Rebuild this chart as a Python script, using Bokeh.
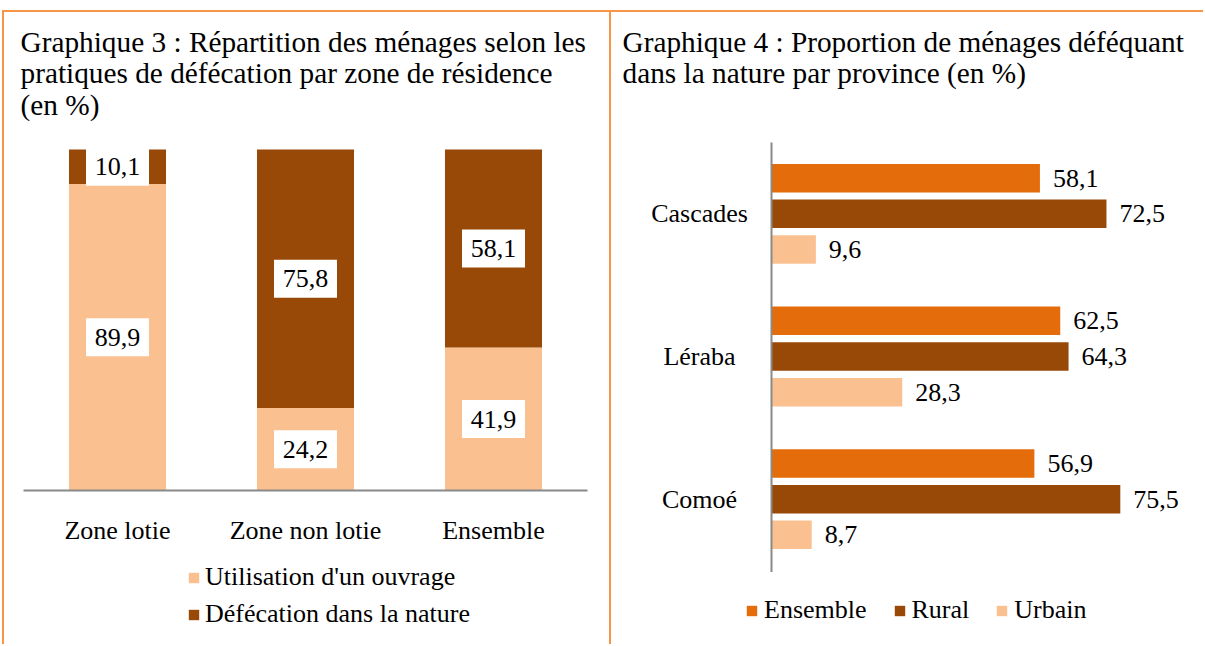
from bokeh.plotting import figure
from bokeh.models import (Range1d, Legend, LegendItem, Label, ColumnDataSource, Spacer)
from bokeh.layouts import row, column
from bokeh.embed import file_html
from bokeh.resources import INLINE
from bokeh.core.properties import value

# ---------------- data ----------------
zones = ["Zone lotie", "Zone non lotie", "Ensemble"]
ouvrage = [89.9, 24.2, 41.9]
nature = [10.1, 75.8, 58.1]
series3 = ["Utilisation d'un ouvrage", "Défécation dans la nature"]

provinces = ["Cascades", "Léraba", "Comoé"]
ens = [58.1, 62.5, 56.9]
rural = [72.5, 64.3, 75.5]
urbain = [9.6, 28.3, 8.7]
series4 = ["Ensemble", "Rural", "Urbain"]

title3 = ["Graphique 3 : Répartition des ménages selon les",
          "pratiques de défécation par zone de résidence",
          "(en %)"]
title4 = ["Graphique 4 : Proportion de ménages déféquant",
          "dans la nature par province (en %)"]

# ---------------- style ----------------
FONT = "Liberation Serif"
C_LIGHT = "#FAC090"
C_DARK = "#984807"
C_ORANGE = "#E46C0A"
C_AXIS = "#898989"
C_BORDER = "#F79646"
FS = "26px"
FS_T = "29.3px"
TITLE_BASE = [29, 60.5, 92]   # baselines, px from canvas top


def fmt(v):
    return f"{v:.1f}".replace(".", ",")


def lin_range(v0, p0, v1, p1, size):
    """Range whose values v0, v1 fall at pixels p0, p1 along an axis of given size."""
    k = (v1 - v0) / (p1 - p0)
    return Range1d(v0 - k * p0, v0 + k * (size - p0))


def style_legend(leg):
    leg.glyph_width = 13
    leg.glyph_height = 13
    leg.padding = 0
    leg.margin = 0
    leg.border_line_color = None
    leg.background_fill_alpha = 0
    leg.label_text_font = FONT
    leg.label_text_font_size = FS
    leg.label_text_color = "black"


def bare_figure(w, h, xr, yr):
    p = figure(width=w, height=h, x_range=xr, y_range=yr,
               x_axis_location=None, y_axis_location=None,
               output_backend="svg", toolbar_location=None,
               min_border=0, min_border_left=0, min_border_right=0,
               min_border_top=0, min_border_bottom=0)
    p.outline_line_color = None
    p.grid.visible = False
    return p


FH = 634

# ---------------- Graphique 3 ----------------
FW1 = 609
nz = len(zones)
# x: categories 0..n at canvas px 19..583 ; y: 0 at px 478 (from top), 100 at px 137
xr1 = lin_range(0, 19, nz, 583, FW1)
yr1 = lin_range(0, FH - 478, 100, FH - 137, FH)
p1 = bare_figure(FW1, FH, xr1, yr1)

xc = [i + 0.5 for i in range(nz)]
src1 = ColumnDataSource(dict(x=xc, ouvrage=ouvrage, nature=nature))
rs = p1.vbar_stack(["ouvrage", "nature"], x="x", width=0.516, source=src1,
                   fill_color=[C_LIGHT, C_DARK], line_color=None)

# baseline axis
p1.segment(x0=[0], x1=[nz], y0=[0], y1=[0], line_color=C_AXIS, line_width=2)
# category labels
p1.text(x=xc, y=[0] * nz, text=zones, y_offset=40, text_align="center",
        text_baseline="middle", text_font=value(FONT), text_font_size=FS, text_color="black")

lab_x, lab_y, lab_t = [], [], []
for x, a, b in zip(xc, ouvrage, nature):
    lab_x += [x, x]
    lab_y += [a / 2, a + b / 2]
    lab_t += [fmt(a), fmt(b)]
lab1 = ColumnDataSource(dict(x=lab_x, y=lab_y, t=lab_t))
p1.rect(x="x", y="y", width=63, height=38, width_units="screen", height_units="screen",
        fill_color="white", line_color=None, source=lab1)
p1.text(x="x", y="y", text="t", source=lab1, text_align="center", text_baseline="middle",
        text_font=value(FONT), text_font_size=FS, text_color="black")

leg1 = Legend(items=[LegendItem(label=series3[0], renderers=[rs[0]]),
                     LegendItem(label=series3[1], renderers=[rs[1]])],
              location=(183, 17), orientation="vertical")
style_legend(leg1)
leg1.label_standoff = 5
leg1.spacing = 7
p1.add_layout(leg1)

for t, b in zip(title3, TITLE_BASE):
    p1.add_layout(Label(x=16, y=FH - b, x_units="screen", y_units="screen", text=t,
                        text_baseline="alphabetic", text_font=FONT, text_font_size=FS_T,
                        text_color="black"))

p1.styles = {"border-top": f"2px solid {C_BORDER}", "border-left": f"2px solid {C_BORDER}",
             "border-right": f"2px solid {C_BORDER}"}

# ---------------- Graphique 4 ----------------
FW2 = 592
n = len(provinces)
PXU = 4.62  # px per percentage point
# x: 0 at canvas px 160 ; y: 0 at px 558 (from top), n at px 130
xr2 = Range1d(-160 / PXU, (FW2 - 160) / PXU)
yr2 = lin_range(0, FH - 558, n, FH - 130, FH)
p2 = bare_figure(FW2, FH, xr2, yr2)

centers = [n - 0.5 - i for i in range(n)]
offsets = [0.25, 0.0, -0.25]
colors4 = [C_ORANGE, C_DARK, C_LIGHT]
renderers4 = []
vx, vy, vt = [], [], []
for vals, off, col in zip([ens, rural, urbain], offsets, colors4):
    ys = [c + off for c in centers]
    r = p2.hbar(y=ys, left=0, right=vals, height=0.2, fill_color=col, line_color=None)
    renderers4.append(r)
    vx += vals
    vy += ys
    vt += [fmt(v) for v in vals]
p2.text(x=vx, y=vy, text=vt, x_offset=13, text_align="left", text_baseline="middle",
        text_font=value(FONT), text_font_size=FS, text_color="black")

# vertical category axis
p2.segment(x0=[0], x1=[0], y0=[-0.01], y1=[n], line_color=C_AXIS, line_width=2)
p2.text(x=[0] * n, y=centers, text=provinces, x_offset=-72, text_align="center",
        text_baseline="middle", text_font=value(FONT), text_font_size=FS, text_color="black")

leg2 = Legend(items=[LegendItem(label=s, renderers=[r]) for s, r in zip(series4, renderers4)],
              location=(134, 21), orientation="horizontal")
style_legend(leg2)
leg2.label_standoff = 6
leg2.spacing = 26
p2.add_layout(leg2)

for t, b in zip(title4, TITLE_BASE):
    p2.add_layout(Label(x=11, y=FH - b, x_units="screen", y_units="screen", text=t,
                        text_baseline="alphabetic", text_font=FONT, text_font_size=FS_T,
                        text_color="black"))

p2.styles = {"border-top": f"2px solid {C_BORDER}"}

layout = column(Spacer(height=10), row(Spacer(width=2), p1, p2))
open("out.html", "w").write(file_html(layout, INLINE))
